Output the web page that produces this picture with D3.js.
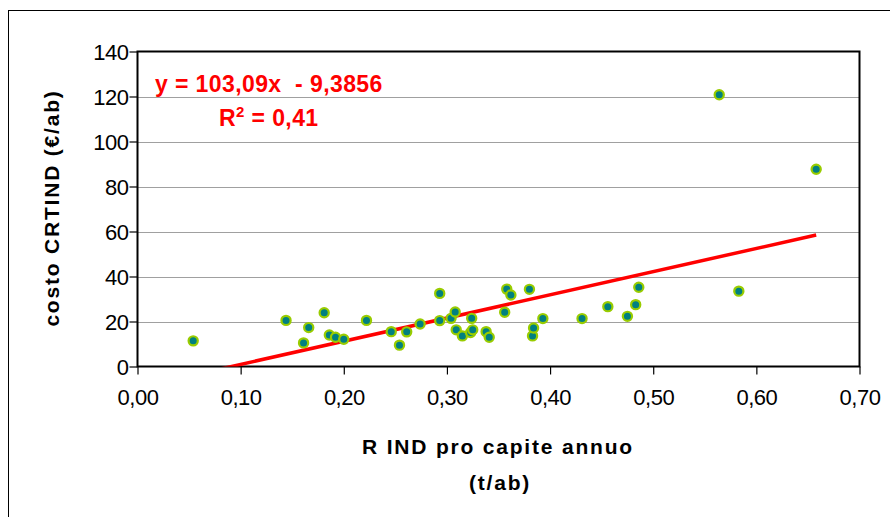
<!DOCTYPE html>
<html>
<head>
<meta charset="utf-8">
<script src="https://cdn.jsdelivr.net/npm/d3@7"></script>
<style>
  body { margin: 0; background: #fff; }
  svg { font-family: "Liberation Sans", Arial, sans-serif; }
  .tick-label { font-size: 22px; fill: #000; letter-spacing: -0.5px; }
  .axis-title { font-size: 21px; font-weight: bold; fill: #000; letter-spacing: 1.8px; }
  .trend-text { font-size: 23px; font-weight: bold; fill: #ff0000; white-space: pre; letter-spacing: 0.4px; }
</style>
</head>
<body>
<svg id="chart" width="890" height="517"></svg>
<script>
  // dati
  const rInd = [0.054, 0.144, 0.161, 0.166, 0.181, 0.186, 0.192, 0.200, 0.222, 0.246,
    0.254, 0.261, 0.274, 0.293, 0.293, 0.304, 0.308, 0.309, 0.315, 0.323,
    0.324, 0.325, 0.338, 0.341, 0.356, 0.358, 0.362, 0.380, 0.383, 0.384,
    0.393, 0.431, 0.456, 0.475, 0.483, 0.486, 0.564, 0.583, 0.658]
  const costo = [11.4, 20.5, 10.5, 17.3, 23.9, 14.0, 13.0, 12.1, 20.5, 15.5,
    9.5, 15.4, 18.9, 32.5, 20.4, 21.4, 24.2, 16.3, 13.6, 15.1,
    21.4, 16.3, 15.5, 13.0, 24.1, 34.4, 31.8, 34.3, 13.6, 17.1,
    21.3, 21.3, 26.6, 22.3, 27.5, 35.2, 120.8, 33.5, 87.7]
  const xTicks = [0, 0.1, 0.2, 0.3, 0.4, 0.5, 0.6, 0.7]
  const yTicks = [0, 20, 40, 60, 80, 100, 120, 140]
  const slope = 103.09
  const intercept = -9.3856
  const equation = 'y = 103,09x  - 9,3856'

  const plotLeft = 137.5
  const plotRight = 859.5
  const plotTop = 51.5
  const plotBottom = 366.5

  const svg = d3.select('#chart')

  // cornice esterna
  svg.append('rect')
    .attr('x', 8.5).attr('y', 10.5)
    .attr('width', 900).attr('height', 520)
    .style('fill', 'none').style('stroke', '#000').style('stroke-width', 1)

  const x = d3.scaleLinear().domain([0, 0.7]).range([plotLeft, plotRight])
  const y = d3.scaleLinear().domain([0, 140]).range([plotBottom, plotTop])
  const fmt = d3.format('.2f')

  // griglia
  svg.append('g').selectAll('line')
    .data(yTicks.filter(d => d > 0 && d < 140))
    .join('line')
    .attr('x1', plotLeft).attr('x2', plotRight)
    .attr('y1', d => Math.round(y(d)) + 0.5).attr('y2', d => Math.round(y(d)) + 0.5)
    .style('stroke', '#a0a0a0').style('stroke-width', 1)

  // assi
  const yAxis = svg.append('g')
    .attr('transform', `translate(${plotLeft},0)`)
    .call(d3.axisLeft(y).tickValues(yTicks).tickSize(8).tickSizeOuter(0).tickFormat(d3.format('d')))
  yAxis.select('.domain').remove()
  yAxis.selectAll('line').style('stroke', '#000').style('stroke-width', 1.2)
  yAxis.selectAll('text').attr('class', 'tick-label').attr('x', -9).attr('dy', '0.35em')

  const xAxis = svg.append('g')
    .attr('transform', `translate(0,${plotBottom})`)
    .call(d3.axisBottom(x).tickValues(xTicks).tickSize(8).tickSizeOuter(0)
      .tickFormat(d => fmt(d).replace('.', ',')))
  xAxis.select('.domain').remove()
  xAxis.selectAll('line').style('stroke', '#000').style('stroke-width', 1.2)
  xAxis.selectAll('text').attr('class', 'tick-label').attr('y', 23).attr('dy', '0.71em')
  svg.selectAll('g').attr('font-family', null).attr('font-size', null)

  // bordo area del grafico
  svg.append('rect')
    .attr('x', plotLeft).attr('y', plotTop)
    .attr('width', plotRight - plotLeft).attr('height', plotBottom - plotTop)
    .style('fill', 'none').style('stroke', '#000').style('stroke-width', 2)

  // linea di tendenza
  svg.append('clipPath').attr('id', 'plot-clip')
    .append('rect')
    .attr('x', plotLeft).attr('y', plotTop)
    .attr('width', plotRight - plotLeft).attr('height', plotBottom - plotTop)
  const x0 = d3.min(rInd)
  const x1 = d3.max(rInd)
  svg.append('line')
    .attr('clip-path', 'url(#plot-clip)')
    .attr('x1', x(x0)).attr('y1', y(slope * x0 + intercept))
    .attr('x2', x(x1)).attr('y2', y(slope * x1 + intercept))
    .style('stroke', '#ff0000').style('stroke-width', 3.5)

  // punti
  svg.append('g').selectAll('circle')
    .data(d3.zip(rInd, costo))
    .join('circle')
    .attr('cx', d => x(d[0]))
    .attr('cy', d => y(d[1]))
    .attr('r', 4.6)
    .style('fill', '#008080')
    .style('stroke', '#99cc00')
    .style('stroke-width', 2.2)

  // equazione
  svg.append('text').attr('class', 'trend-text')
    .attr('x', 155).attr('y', 92)
    .text(equation)
  const r2 = svg.append('text').attr('class', 'trend-text')
    .attr('x', 219).attr('y', 126)
  r2.append('tspan').text('R')
  r2.append('tspan').attr('dy', -9).style('font-size', '15px').text('2')
  r2.append('tspan').attr('dy', 9).text(' = 0,41')

  // titoli assi
  svg.append('text').attr('class', 'axis-title')
    .attr('transform', 'translate(59,208) rotate(-90)')
    .style('text-anchor', 'middle')
    .text('costo CRTIND (€/ab)')
  svg.append('text').attr('class', 'axis-title')
    .attr('x', 498).attr('y', 454)
    .style('text-anchor', 'middle')
    .text('R IND pro capite annuo')
  svg.append('text').attr('class', 'axis-title')
    .attr('x', 500).attr('y', 490)
    .style('text-anchor', 'middle')
    .text('(t/ab)')
</script>
</body>
</html>
